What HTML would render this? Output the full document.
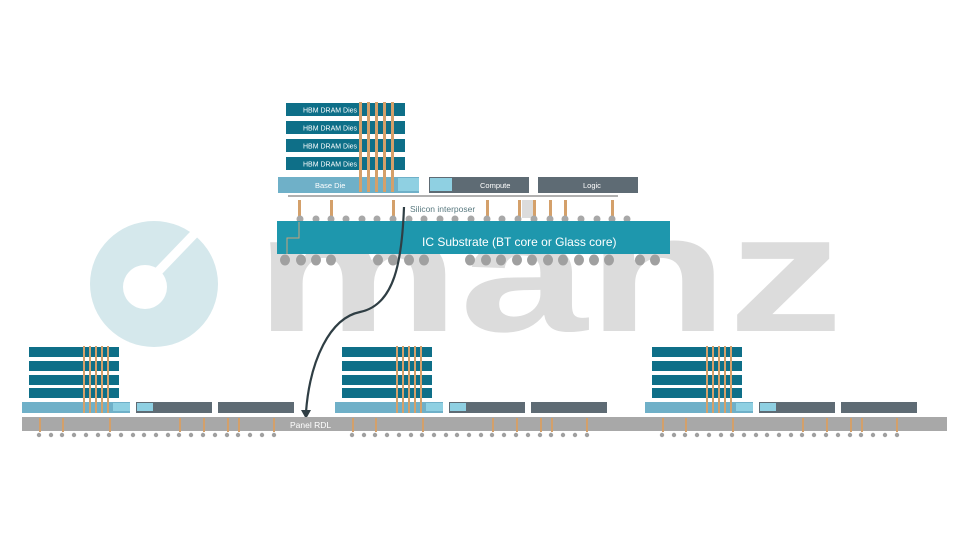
<!DOCTYPE html>
<html><head><meta charset="utf-8"><style>
html,body{margin:0;padding:0;background:#fff;}
svg{display:block;font-family:"Liberation Sans",sans-serif;}
</style></head><body>
<svg width="960" height="540" viewBox="0 0 960 540" xmlns="http://www.w3.org/2000/svg">
<defs>
<g id="grp">
  <rect x="29" y="347" width="90" height="10" fill="#0e6f88"/>
  <rect x="29" y="361" width="90" height="10" fill="#0e6f88"/>
  <rect x="29" y="375" width="90" height="10" fill="#0e6f88"/>
  <rect x="29" y="388" width="90" height="10" fill="#0e6f88"/>
  <g fill="#d4a06a">
    <rect x="83" y="346" width="2" height="66"/><rect x="89" y="346" width="2" height="66"/>
    <rect x="95" y="346" width="2" height="66"/><rect x="101" y="346" width="2" height="66"/>
    <rect x="107" y="346" width="2" height="66"/>
  </g>
  <rect x="22" y="402" width="108" height="11" fill="#6fb0c8"/>
  <rect x="113" y="403" width="17" height="8" fill="#8fd0e2"/>
  <g fill="#d4a06a"><rect x="83" y="402" width="2" height="11"/><rect x="89" y="402" width="2" height="11"/><rect x="95" y="402" width="2" height="11"/><rect x="101" y="402" width="2" height="11"/><rect x="107" y="402" width="2" height="11"/></g>
  <rect x="136" y="402" width="76" height="11" fill="#5e6b74"/>
  <rect x="137" y="403" width="16" height="8" fill="#8fd0e2"/>
  <rect x="218" y="402" width="76" height="11" fill="#5e6b74"/>
  <g fill="#d4a06a">
    <rect x="39" y="418" width="2" height="14"/><rect x="62" y="418" width="2" height="14"/>
    <rect x="109" y="418" width="2" height="14"/><rect x="179" y="418" width="2" height="14"/>
    <rect x="203" y="418" width="2" height="14"/><rect x="227" y="418" width="2" height="14"/>
    <rect x="238" y="418" width="2" height="14"/><rect x="273" y="418" width="2" height="14"/>
  </g>
  <g fill="#a0a0a0">
    <circle cx="39" cy="435" r="2.2"/><circle cx="51" cy="435" r="2.2"/><circle cx="62" cy="435" r="2.2"/><circle cx="74" cy="435" r="2.2"/><circle cx="86" cy="435" r="2.2"/><circle cx="98" cy="435" r="2.2"/><circle cx="109" cy="435" r="2.2"/><circle cx="121" cy="435" r="2.2"/><circle cx="133" cy="435" r="2.2"/><circle cx="144" cy="435" r="2.2"/><circle cx="156" cy="435" r="2.2"/><circle cx="168" cy="435" r="2.2"/><circle cx="179" cy="435" r="2.2"/><circle cx="191" cy="435" r="2.2"/><circle cx="203" cy="435" r="2.2"/><circle cx="215" cy="435" r="2.2"/><circle cx="227" cy="435" r="2.2"/><circle cx="238" cy="435" r="2.2"/><circle cx="250" cy="435" r="2.2"/><circle cx="262" cy="435" r="2.2"/><circle cx="274" cy="435" r="2.2"/>
  </g>
</g>
</defs>

<!-- logo -->
<ellipse cx="154" cy="284" rx="64" ry="63" fill="#d5e8ec"/>
<circle cx="145" cy="287" r="22" fill="#fff"/>
<line x1="150" y1="280" x2="200" y2="228" stroke="#fff" stroke-width="9"/>
<text x="255" y="331" font-size="168" font-weight="bold" fill="#dcdcdc" textLength="588" lengthAdjust="spacingAndGlyphs">manz</text>

<!-- top stack -->
<g fill="#0e6f88">
  <rect x="286" y="103" width="119" height="13"/><rect x="286" y="121" width="119" height="13"/>
  <rect x="286" y="139" width="119" height="13"/><rect x="286" y="157" width="119" height="13"/>
</g>
<g fill="#fff" font-size="7">
  <text x="303" y="112.5">HBM DRAM Dies</text><text x="303" y="130.5">HBM DRAM Dies</text>
  <text x="303" y="148.5">HBM DRAM Dies</text><text x="303" y="166.5">HBM DRAM Dies</text>
</g>
<rect x="278" y="177" width="141" height="16" fill="#6fb0c8"/>
<rect x="398" y="178" width="21" height="13" fill="#8fd0e2"/>
<rect x="429" y="177" width="100" height="16" fill="#5e6b74"/>
<rect x="430" y="178" width="22" height="13" fill="#8fd0e2"/>
<rect x="538" y="177" width="100" height="16" fill="#5e6b74"/>
<g fill="#fff" font-size="7.5"><text x="315" y="188">Base Die</text><text x="480" y="188">Compute</text><text x="583" y="188">Logic</text></g>
<g fill="#d4a06a">
  <rect x="359" y="102" width="3" height="90"/><rect x="367" y="102" width="3" height="90"/>
  <rect x="375" y="102" width="3" height="90"/><rect x="383" y="102" width="3" height="90"/>
  <rect x="391" y="102" width="3" height="90"/>
  <rect x="298" y="200" width="3" height="18"/><rect x="330" y="200" width="3" height="18"/>
  <rect x="392" y="200" width="3" height="18"/><rect x="486" y="200" width="3" height="18"/>
  <rect x="518" y="200" width="3" height="18"/><rect x="533" y="200" width="3" height="18"/>
  <rect x="549" y="200" width="3" height="18"/><rect x="564" y="200" width="3" height="18"/>
  <rect x="611" y="200" width="3" height="18"/>
</g>
<rect x="522" y="200" width="11" height="18" fill="#dcdcdc"/>
<g fill="#a8a8a8">
  <circle cx="300" cy="219" r="3.5"/><circle cx="316" cy="219" r="3.5"/><circle cx="331" cy="219" r="3.5"/><circle cx="346" cy="219" r="3.5"/><circle cx="362" cy="219" r="3.5"/><circle cx="377" cy="219" r="3.5"/><circle cx="393" cy="219" r="3.5"/><circle cx="409" cy="219" r="3.5"/><circle cx="424" cy="219" r="3.5"/><circle cx="440" cy="219" r="3.5"/><circle cx="455" cy="219" r="3.5"/><circle cx="471" cy="219" r="3.5"/><circle cx="487" cy="219" r="3.5"/><circle cx="502" cy="219" r="3.5"/><circle cx="518" cy="219" r="3.5"/><circle cx="534" cy="219" r="3.5"/><circle cx="550" cy="219" r="3.5"/><circle cx="565" cy="219" r="3.5"/><circle cx="581" cy="219" r="3.5"/><circle cx="597" cy="219" r="3.5"/><circle cx="612" cy="219" r="3.5"/><circle cx="627" cy="219" r="3.5"/>
</g>
<g fill="#b0b0b0">
  <rect x="288" y="195" width="330" height="2"/>
</g>
<rect x="277" y="221" width="393" height="33" fill="#1e97ad"/>
<polyline points="299,222 299,238 287,238 287,254" fill="none" stroke="#c9a37a" stroke-width="1"/>
<text x="422" y="246" font-size="12" fill="#fff">IC Substrate (BT core or Glass core)</text>
<g fill="#a0a0a0">
  <ellipse cx="285" cy="260" rx="5" ry="5.5"/><ellipse cx="301" cy="260" rx="5" ry="5.5"/><ellipse cx="316" cy="260" rx="5" ry="5.5"/><ellipse cx="331" cy="260" rx="5" ry="5.5"/>
  <ellipse cx="378" cy="260" rx="5" ry="5.5"/><ellipse cx="393" cy="260" rx="5" ry="5.5"/><ellipse cx="409" cy="260" rx="5" ry="5.5"/><ellipse cx="424" cy="260" rx="5" ry="5.5"/>
  <ellipse cx="470" cy="260" rx="5" ry="5.5"/><ellipse cx="486" cy="260" rx="5" ry="5.5"/><ellipse cx="501" cy="260" rx="5" ry="5.5"/><ellipse cx="517" cy="260" rx="5" ry="5.5"/><ellipse cx="532" cy="260" rx="5" ry="5.5"/><ellipse cx="548" cy="260" rx="5" ry="5.5"/><ellipse cx="563" cy="260" rx="5" ry="5.5"/><ellipse cx="579" cy="260" rx="5" ry="5.5"/><ellipse cx="594" cy="260" rx="5" ry="5.5"/><ellipse cx="609" cy="260" rx="5" ry="5.5"/>
  <ellipse cx="640" cy="260" rx="5" ry="5.5"/><ellipse cx="655" cy="260" rx="5" ry="5.5"/>
</g>
<text x="410" y="212" font-size="8.5" fill="#5a7a80">Silicon interposer</text>
<path d="M404,207 C402,260 395,305 360,312 C330,318 310,360 306,412" fill="none" stroke="#2f3e44" stroke-width="2.2"/>
<path d="M301,410 L306,419 L311,410 Z" fill="#2f3e44"/>

<!-- bottom -->
<rect x="22" y="417" width="925" height="14" fill="#a8a8a8"/>
<use href="#grp"/>
<use href="#grp" x="313"/>
<use href="#grp" x="623"/>
<text x="290" y="428" font-size="8.5" fill="#fff">Panel RDL</text>
</svg>
</body></html>
